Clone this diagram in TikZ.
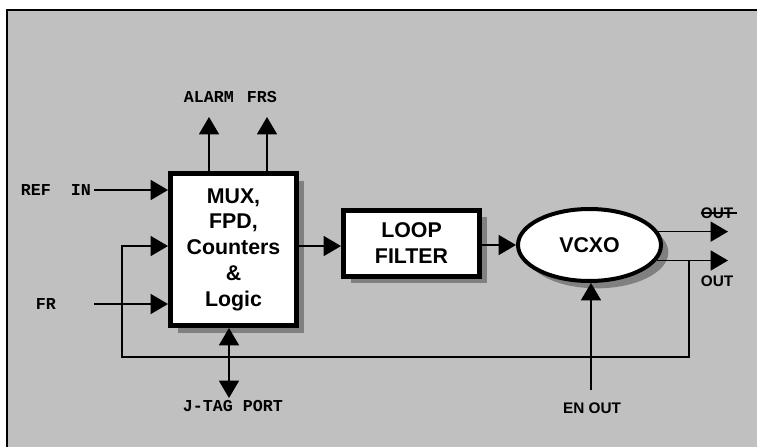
\documentclass[tikz,border=0pt]{standalone}
\usepackage{fontspec}
\setmainfont{Liberation Sans}
\newfontfamily\pinfont{Liberation Mono}
\usepackage{tikz}
\usetikzlibrary{shadows}
\usetikzlibrary{positioning}
\usetikzlibrary{arrows.meta,shapes}
\definecolor{panel}{RGB}{192,192,192}

\begin{document}
\begin{tikzpicture}[x=0.75pt, y=-0.75pt,
  >={Triangle[length=13pt, width=15pt]},
  block/.style={draw, line width=3.75pt, fill=white, align=center, inner sep=0pt,
    font=\fontsize{16}{19.3}\selectfont\bfseries,
    drop shadow={shadow xshift=5.5pt, shadow yshift=-5.5pt, fill=black!50, opacity=1}},
  sig/.style={line width=1.1pt, ->},
  pin/.style={font=\fontsize{12.5}{14}\selectfont\pinfont\bfseries, inner sep=0pt},
  port/.style={font=\fontsize{11.5}{13}\selectfont\bfseries, inner sep=0pt}]

 \useasboundingbox (0,0) rectangle (757,447);
 \fill[panel] (7,10) rectangle (757,447);
 \draw[line width=1.5pt] (7,447) -- (7,10) -- (757,10);

 % blocks
 \node[block, minimum width=94.5pt, minimum height=114pt] (mux) at (233.5,249.5)
   {MUX,\\FPD,\\Counters\\\&\\Logic};
 \node[block, minimum width=102pt, minimum height=49.5pt] (loop) at (411.5,243)
   {LOOP\\FILTER};
 \node[block, ellipse, line width=3pt, minimum width=107.25pt, minimum height=54pt] (vcxo) at (589.5,245)
   {VCXO};

 \coordinate (in2) at ([yshift=2.6pt]mux.west);
 \coordinate (out1) at ([yshift=2.6pt]mux.east);

 % inputs
 \node[pin] (refin) at (56,190) {REF\ \ IN};
 \node[pin] (fr) at (46,304) {FR};
 \foreach \y/\n in {190/refsrc, 304/frsrc} {
   \coordinate (\n) at (94,\y);
   \draw[sig] (\n) -- (\n -| mux.west);
 }

 % status outputs
 \foreach \x/\n in {209/alarm, 267/frs} {
   \coordinate (\n) at (\x,117);
   \draw[sig] (mux.north -| \n) -- (\n);
 }
 \node[pin] (alarmlbl) at (209,97) {ALARM};
 \node[pin] (frslbl) at (262,97) {FRS};

 % j-tag
 \coordinate (jtag) at (229,398);
 \draw[sig, <->] (mux.south -| jtag) -- (jtag);
 \node[pin] (jtaglbl) at (233,406) {J-TAG PORT};

 % loop
 \draw[sig] (out1) -- (out1 -| loop.west);
 \draw[sig] (loop.east |- vcxo.west) -- (vcxo.west);

 % outputs
 \coordinate (outa) at (728,232);
 \coordinate (outb) at (728,260);
 \draw[sig] (vcxo.11) -- (vcxo.11 -| outa);
 \draw[sig] (vcxo.-13) -- (vcxo.-13 -| outb);
 \node[port] (outalbl) at (717,213) {OUT};
 \draw[line width=0.8pt] (outalbl.west) -- ([xshift=2.5pt]outalbl.east);
 \node[port] (outblbl) at (717,281) {OUT};

 % feedback
 \coordinate (fbk) at (689,357);
 \coordinate (fbl) at (122,357);
 \draw[line width=0.9pt, ->] (vcxo.-13 -| fbk) -- (fbk) -- (fbl) |- (in2);

 % enable
 \coordinate (enout) at (591,390);
 \draw[sig] (enout) -- (enout |- vcxo.south);
 \node[port] (enlbl) at (592,408) {EN OUT};

\end{tikzpicture}
\end{document}
